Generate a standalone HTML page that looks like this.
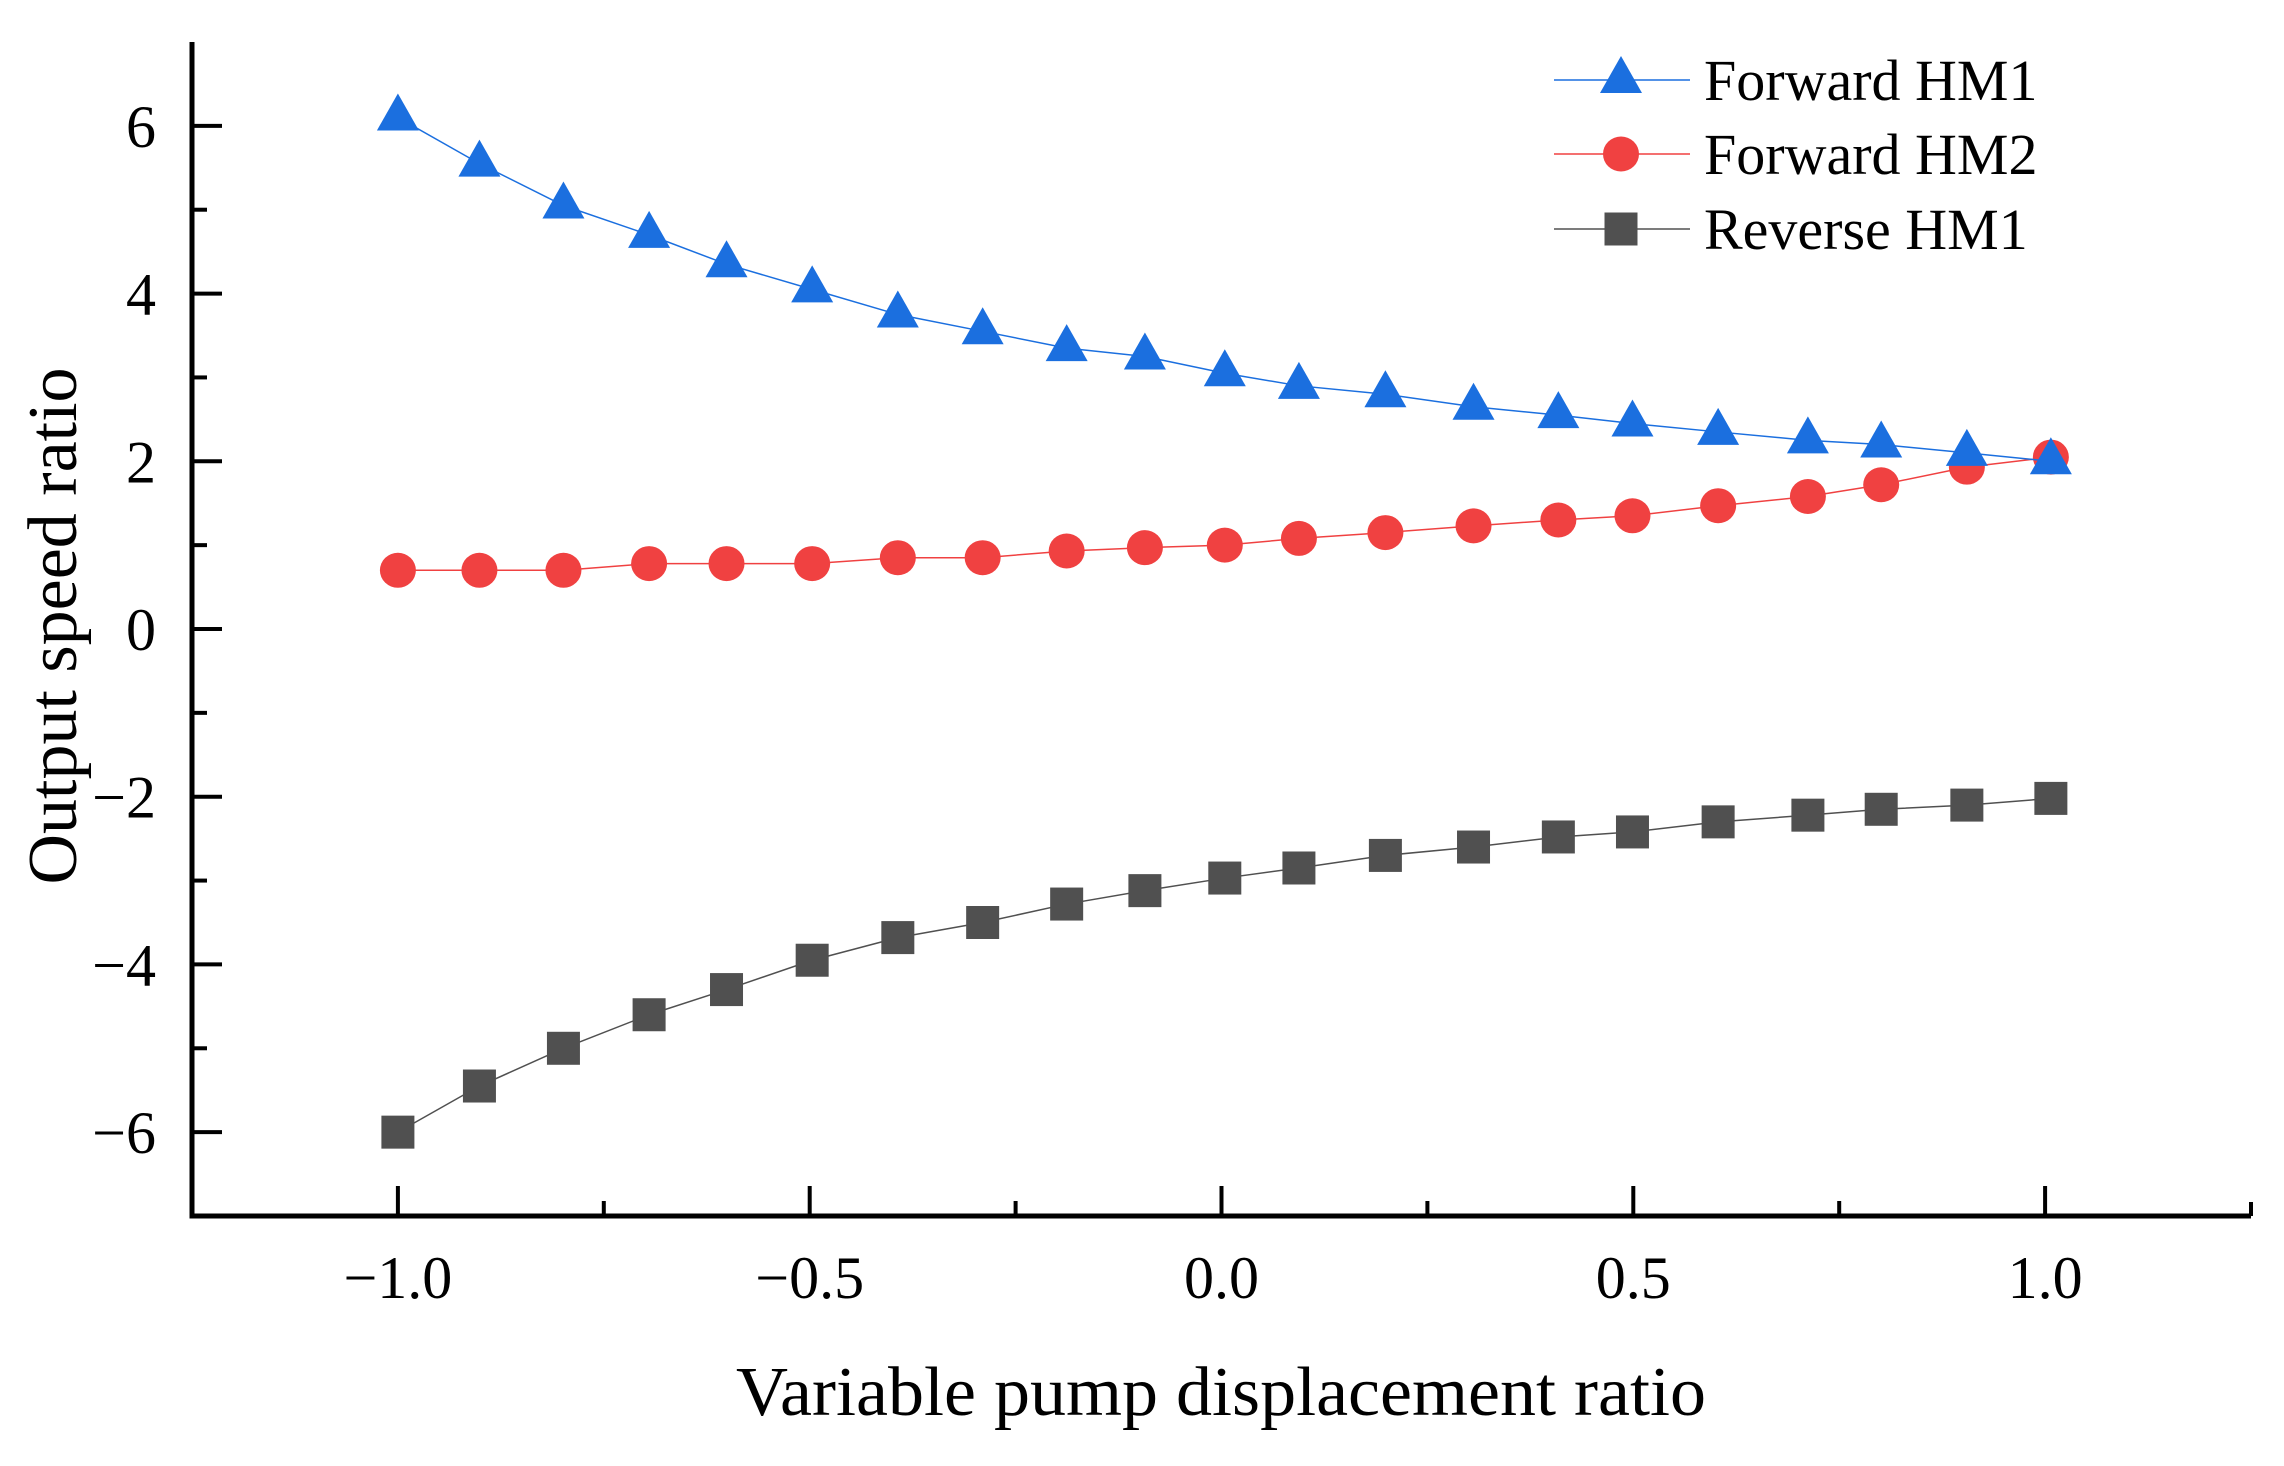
<!DOCTYPE html>
<html><head><meta charset="utf-8"><style>
html,body{margin:0;padding:0;background:#fff;}
svg{display:block;font-family:"Liberation Serif",serif;}
</style></head><body>
<svg id="chart" width="2284" height="1466" viewBox="0 0 2284 1466" xmlns="http://www.w3.org/2000/svg">
<g id="plot"></g>
<text x="1221" y="1415" font-size="70" text-anchor="middle" textLength="970" lengthAdjust="spacingAndGlyphs">Variable pump displacement ratio</text>
<text transform="translate(76,626) rotate(-90)" font-size="70" text-anchor="middle">Output speed ratio</text>
<g id="legend"></g>
</svg>
<script>
const xValues=[-1,-0.901,-0.799,-0.695,-0.601,-0.497,-0.393,-0.290,-0.188,-0.093,0.004,0.094,0.199,0.306,0.409,0.499,0.603,0.712,0.801,0.905,1.007];
const fwdHM1=[6.1,5.55,5.05,4.7,4.35,4.05,3.75,3.55,3.35,3.25,3.05,2.9,2.8,2.65,2.55,2.45,2.35,2.25,2.2,2.1,2.0];
const fwdHM2=[0.7,0.7,0.7,0.78,0.78,0.78,0.85,0.85,0.93,0.97,1.0,1.08,1.15,1.23,1.3,1.35,1.47,1.58,1.72,1.93,2.05];
const revHM1=[-6.0,-5.45,-5.0,-4.6,-4.3,-3.95,-3.68,-3.5,-3.28,-3.12,-2.97,-2.85,-2.7,-2.6,-2.48,-2.42,-2.3,-2.22,-2.15,-2.1,-2.02];
const xTicks=[-1.0,-0.5,0.0,0.5,1.0];
const xTickLabels=["−1.0","−0.5","0.0","0.5","1.0"];
const xMinor=[-0.75,-0.25,0.25,0.75];
const yTicks=[-6,-4,-2,0,2,4,6];
const yTickLabels=["−6","−4","−2","0","2","4","6"];
const yMinor=[-7,-5,-3,-1,1,3,5];
const seriesNames=["Forward HM1","Forward HM2","Reverse HM1"];

const NS="http://www.w3.org/2000/svg";
const X0=192,X1=2251,Y0=1216,Y1=42;
const xMin=-1.25,xMax=1.25,yMin=-7,yMax=7;
function sx(v){return X0+(v-xMin)/(xMax-xMin)*(X1-X0);}
function sy(v){return Y0-(v-yMin)/(yMax-yMin)*(Y0-Y1);}
function mk(tag,attrs,parent){const e=document.createElementNS(NS,tag);for(const k in attrs)e.setAttribute(k,attrs[k]);parent.appendChild(e);return e;}
const plot=document.getElementById('plot');

// axes
let a=mk('line',{x1:X0,y1:Y1,x2:X0,y2:Y0+2.5,stroke:'#000','stroke-width':5},plot);


a=mk('line',{x1:X0-2.5,y1:Y0,x2:X1,y2:Y0,stroke:'#000','stroke-width':5},plot);


a=mk('line',{x1:X1,y1:Y0,x2:X1,y2:Y0-14,stroke:'#000','stroke-width':4},plot);



xTicks.forEach((v,i)=>{
  const t=mk('line',{x1:sx(v),y1:Y0,x2:sx(v),y2:Y0-30,stroke:'#000','stroke-width':4},plot);
  
  
  const l=mk('text',{x:sx(v),y:1298,'font-size':60,'text-anchor':'middle'},plot);
  l.textContent=xTickLabels[i];
  
  
});
xMinor.forEach(v=>{
  const t=mk('line',{x1:sx(v),y1:Y0,x2:sx(v),y2:Y0-15,stroke:'#000','stroke-width':4},plot);
  
  
});
yTicks.forEach((v,i)=>{
  const t=mk('line',{x1:X0,y1:sy(v),x2:X0+30,y2:sy(v),stroke:'#000','stroke-width':4},plot);
  
  
  const l=mk('text',{x:156,y:sy(v)+21,'font-size':60,'text-anchor':'end'},plot);
  l.textContent=yTickLabels[i];
  
  
});
yMinor.forEach(v=>{
  const t=mk('line',{x1:X0,y1:sy(v),x2:X0+15,y2:sy(v),stroke:'#000','stroke-width':4},plot);
  
  
});

const colors=['#1b6fdf','#f04141','#505050'];
const shapes=['tri','circ','sq'];
function marker(shape,cx,cy,color,parent){
  let e;
  if(shape==='tri') e=mk('polygon',{points:`${cx},${cy-24} ${cx-21},${cy+13} ${cx+21},${cy+13}`,fill:color},parent);
  else if(shape==='circ') e=mk('ellipse',{cx:cx,cy:cy,rx:18,ry:17.5,fill:color},parent);
  else e=mk('rect',{x:cx-16.5,y:cy-16.5,width:33,height:33,fill:color},parent);
  return e;
}
const allSeries=[fwdHM1,fwdHM2,revHM1];
const order=[2,1,0];
order.forEach(si=>{
  const vals=allSeries[si];
  const g=mk('g',{},plot);
  
  
  const pl=mk('polyline',{points:vals.map((v,i)=>sx(xValues[i])+','+sy(v)).join(' '),fill:'none',stroke:colors[si],'stroke-width':1.5},g);
  
  
  vals.forEach((v,i)=>{
    const m=marker(shapes[si],sx(xValues[i]),sy(v),colors[si],g);
    
    
  });
});

const leg=document.getElementById('legend');
const rowY=[80,154,229];
seriesNames.forEach((n,i)=>{
  const g=mk('g',{},leg);
  
  
  mk('line',{x1:1554,y1:rowY[i],x2:1690,y2:rowY[i],stroke:colors[i],'stroke-width':1.5},g);
  marker(shapes[i],1621,rowY[i],colors[i],g);
  const t=mk('text',{x:1704,y:rowY[i]+20,'font-size':58},g);
  t.textContent=n;
});
</script>
</body></html>
